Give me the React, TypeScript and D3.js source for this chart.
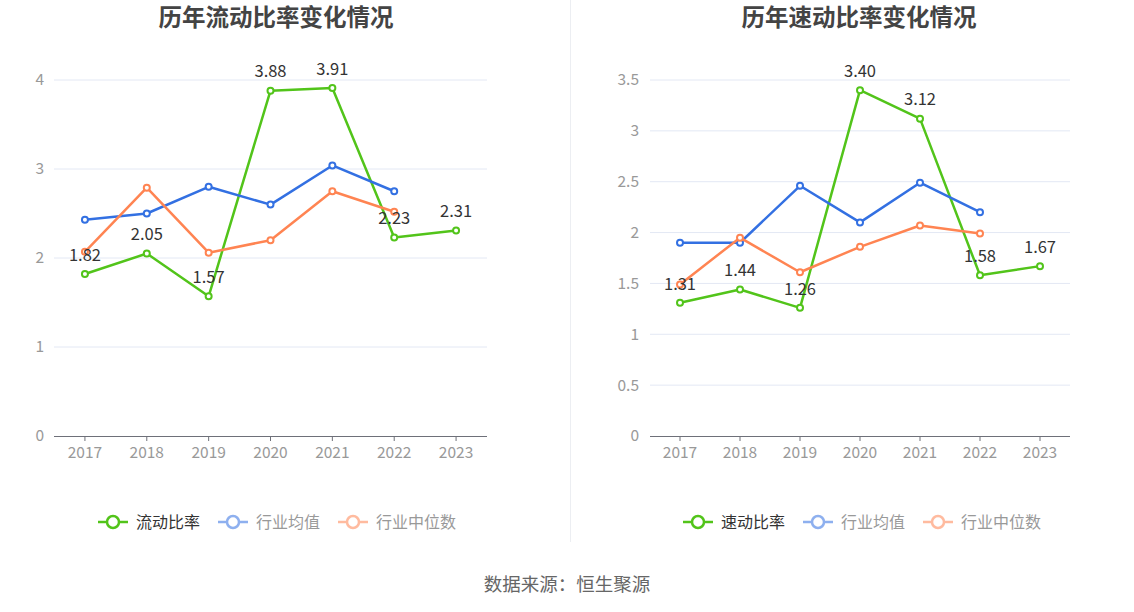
import React from 'react';
import { scaleBand, scaleLinear, line as d3Line } from 'd3';

const years = ['2017', '2018', '2019', '2020', '2021', '2022', '2023'];

// 流动比率
const currentRatio = [1.82, 2.05, 1.57, 3.88, 3.91, 2.23, 2.31];
const currentAvg = [2.43, 2.5, 2.8, 2.6, 3.04, 2.75];
const currentMedian = [2.07, 2.79, 2.06, 2.2, 2.75, 2.52];
const currentTicks = [0, 1, 2, 3, 4];

// 速动比率
const quickRatio = [1.31, 1.44, 1.26, 3.4, 3.12, 1.58, 1.67];
const quickAvg = [1.9, 1.9, 2.46, 2.1, 2.49, 2.2];
const quickMedian = [1.49, 1.95, 1.61, 1.86, 2.07, 1.99];
const quickTicks = [0, 0.5, 1, 1.5, 2, 2.5, 3, 3.5];

const GREEN = '#52c41a';
const BLUE = '#3370e2';
const ORANGE = '#ff8452';
const FONT = '"Noto Sans CJK SC", "Noto Sans", sans-serif';

interface PanelProps {
  title: string;
  mainName: string;
  main: number[];
  avg: number[];
  median: number[];
  ticks: number[];
  x0: number;
  x1: number;
  yLabelX: number;
  titleX: number;
  legendX: number;
}

function Panel({ title, mainName, main, avg, median, ticks, x0, x1, yLabelX, titleX, legendX }: PanelProps) {
  const top = 80;
  const bottom = 436;
  const x = scaleBand<string>().domain(years).range([x0, x1]);
  const y = scaleLinear().domain([0, ticks[ticks.length - 1]]).range([bottom, top]);
  const cx = (i: number) => (x(years[i]) ?? 0) + x.bandwidth() / 2;
  const path = (vals: number[]) =>
    d3Line<number>()
      .x((_, i) => cx(i))
      .y(d => y(d))(vals) || '';

  const series = [
    { name: mainName, vals: main, color: GREEN },
    { name: '行业均值', vals: avg, color: BLUE },
    { name: '行业中位数', vals: median, color: ORANGE },
  ];

  // legend layout
  const fs = 16;
  const itemW = series.map(s => 30 + 8 + s.name.length * fs);
  const gap = 18;
  const total = itemW.reduce((a, b) => a + b, 0) + gap * (series.length - 1);
  let lx = legendX - total / 2;
  const legendY = 522;

  return (
    <g>
      <text
        x={titleX}
        y={18}
        dy="0.35em"
        textAnchor="middle"
        fontSize={23.5}
        fontWeight="bold"
        fill="#444"
        fontFamily={FONT}
      >
        {title}
      </text>

      {ticks.map(t => (
        <g key={t}>
          {t > 0 && (
            <line x1={x0} x2={x1} y1={y(t)} y2={y(t)} stroke="#e3e8f4" strokeWidth={1} />
          )}
          <text
            x={yLabelX}
            y={y(t)}
            dy="0.35em"
            textAnchor="end"
            fontSize={15.5}
            fill="#999"
            fontFamily={FONT}
          >
            {String(t)}
          </text>
        </g>
      ))}

      <line x1={x0} x2={x1} y1={bottom + 0.5} y2={bottom + 0.5} stroke="#6e7079" strokeWidth={1} />
      {years.map((yr, i) => (
        <g key={yr}>
          <line x1={cx(i)} x2={cx(i)} y1={bottom} y2={bottom + 5} stroke="#6e7079" />
          <text
            x={cx(i)}
            y={bottom + 17}
            dy="0.35em"
            textAnchor="middle"
            fontSize={15.5}
            fill="#999"
            fontFamily={FONT}
          >
            {yr}
          </text>
        </g>
      ))}

      {series.map(s => (
        <g key={s.name}>
          <path d={path(s.vals)} fill="none" stroke={s.color} strokeWidth={2.5} strokeLinejoin="round" />
          {s.vals.map((v, i) => (
            <circle key={i} cx={cx(i)} cy={y(v)} r={3} fill="#fff" stroke={s.color} strokeWidth={2} />
          ))}
        </g>
      ))}

      {main.map((v, i) => (
        <text
          key={i}
          x={cx(i)}
          y={y(v) - 19}
          dy="0.35em"
          textAnchor="middle"
          fontSize={16.5}
          fill="#333"
          fontFamily={FONT}
        >
          {v.toFixed(2)}
        </text>
      ))}

      {series.map((s, k) => {
        const sx = lx;
        lx += itemW[k] + gap;
        const faded = k > 0;
        return (
          <g key={s.name}>
            <g opacity={faded ? 0.55 : 1}>
              <line x1={sx} x2={sx + 30} y1={legendY} y2={legendY} stroke={s.color} strokeWidth={2.5} />
              <circle cx={sx + 15} cy={legendY} r={6} fill="#fff" stroke={s.color} strokeWidth={2.5} />
            </g>
            <text
              x={sx + 38}
              y={legendY}
              dy="0.35em"
              fontSize={fs}
              fill={faded ? '#999' : '#333'}
              fontFamily={FONT}
            >
              {s.name}
            </text>
          </g>
        );
      })}
    </g>
  );
}

export default function App() {
  return (
    <div style={{ position: 'absolute', left: 0, top: 0, width: 1134, height: 612, background: '#fff' }}>
      <svg width={1134} height={612} style={{ display: 'block' }}>
        <rect x={0} y={0} width={1134} height={612} fill="#fff" />
        <line x1={570.5} x2={570.5} y1={0} y2={542} stroke="#eceef2" strokeWidth={1} />
        <Panel
          title="历年流动比率变化情况"
          mainName="流动比率"
          main={currentRatio}
          avg={currentAvg}
          median={currentMedian}
          ticks={currentTicks}
          x0={54}
          x1={487}
          yLabelX={44}
          titleX={276}
          legendX={277}
        />
        <Panel
          title="历年速动比率变化情况"
          mainName="速动比率"
          main={quickRatio}
          avg={quickAvg}
          median={quickMedian}
          ticks={quickTicks}
          x0={650}
          x1={1070}
          yLabelX={639}
          titleX={859}
          legendX={862}
        />
        <text x={567} y={585} dy="0.35em" textAnchor="middle" fontSize={18.5} fill="#666" fontFamily={FONT}>
          数据来源：恒生聚源
        </text>
      </svg>
    </div>
  );
}
